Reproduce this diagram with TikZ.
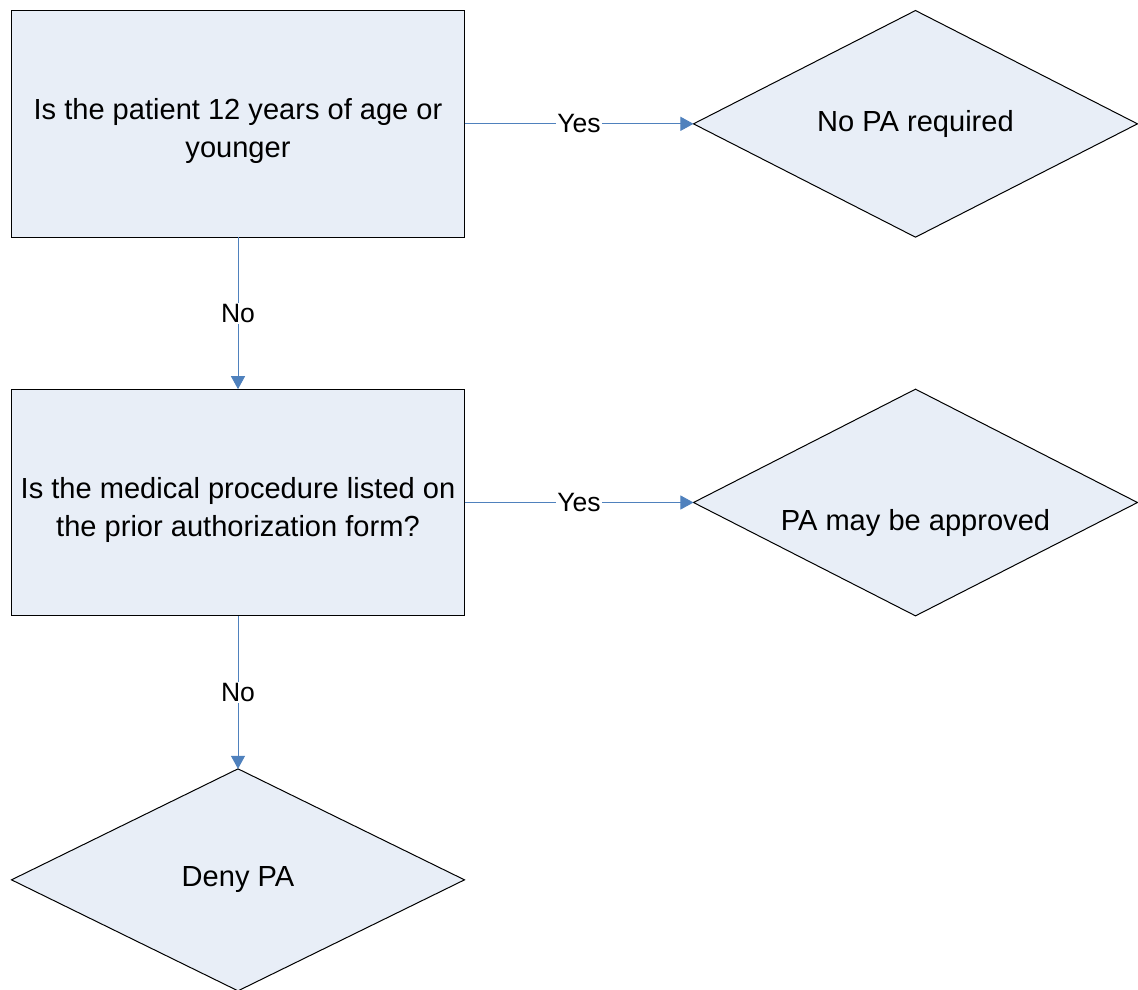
\documentclass[tikz,border=0pt]{standalone}
\usepackage{fontspec}
\setmainfont{Liberation Sans}
\usetikzlibrary{graphs,shapes.geometric,arrows.meta}
\definecolor{boxfill}{RGB}{232,238,247}
\definecolor{flowblue}{RGB}{79,129,189}
\newcommand{\mkstep}[2]{\node[stepbox] (#1) {\rule{0pt}{27pt}#2} ;}
\newcommand{\mkend}[3][]{\node[endbox,#1] (#2) {#3} ;}
\tikzset{
    stepbox/.style={
        draw,
        rectangle,
        fill=boxfill,
        line width=0.75pt,
        inner sep=0,
        outer sep=0,
        minimum width=339.75pt,
        minimum height=170pt,
        align=center,
        font=\fontsize{21.8}{28.5}\selectfont,
    },
    endbox/.style={
        draw,
        diamond,
        aspect=2,
        fill=boxfill,
        line width=0.75pt,
        inner sep=0,
        outer sep=0,
        minimum width=333pt,
        minimum height=170pt,
        font=\fontsize{21.8}{28.5}\selectfont,
    },
    low text/.style={
        text height=42pt,
        text depth=0pt,
    },
    answer/.style={
        fill=white,
        text=black,
        inner sep=1pt,
        font=\fontsize{19.9}{24}\selectfont,
    },
    nice flow/.style={
        row sep=113.25pt,
        column sep=171pt,
        inner sep=0,
        outer sep=0,
        nodes={anchor=center},
    },
}
\begin{document}
\begin{tikzpicture}[x=0.75pt,y=0.75pt,>={Triangle[length=9.75pt,width=10.5pt]}]
            \useasboundingbox (0,0) rectangle (1138,-989);
            \matrix[nice flow,anchor=north west] at (11,-10) {
                \mkstep{age}{Is the patient 12 years of age or\\younger}
                    & \mkend{nopa}{No PA required} \\
                \mkstep{listed}{Is the medical procedure listed on\\the prior authorization form?}
                    & \mkend[low text]{approve}{PA may be approved} \\[0.75pt]
                \mkend[minimum width=339.75pt,minimum height=166.5pt]{deny}{Deny PA}
                    & \\
            } ;

            \graph[use existing nodes, edges={flowblue, line width=0.75pt}]{
                age ->[edge node={node[answer]{Yes}}] nopa;
                age ->[edge node={node[answer]{No}}] listed;
                listed ->[edge node={node[answer]{Yes}}] approve;
                listed ->[edge node={node[answer]{No}}] deny;
            } ;
        \end{tikzpicture}
\end{document}
